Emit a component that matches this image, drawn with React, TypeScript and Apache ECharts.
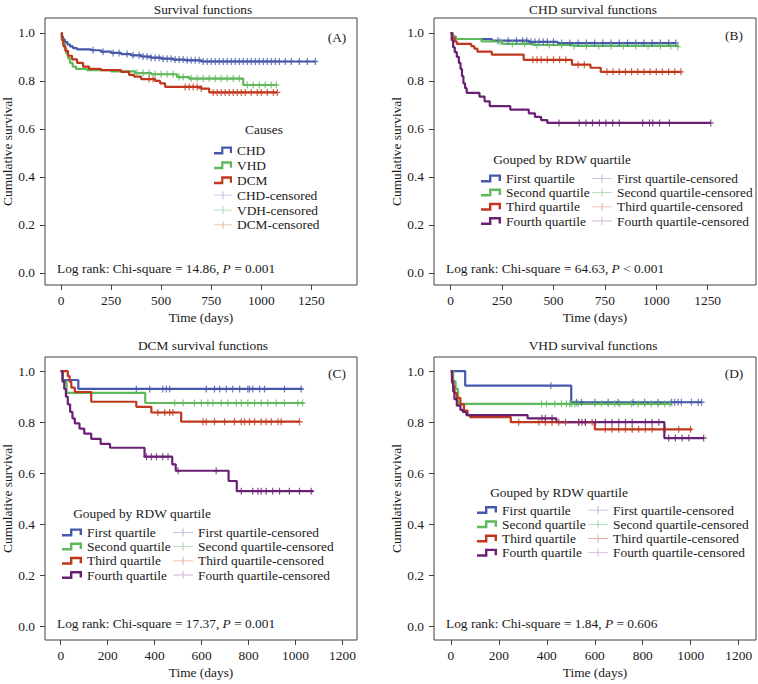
import React, { useEffect, useRef } from 'react';
import * as echarts from 'echarts';

const FONT = '"Liberation Serif", "Times New Roman", Times, serif';
const FS = 13.4;
const TXT = '#1a1a1a';
const BLUE = '#4658ab';
const GREEN = '#5fb95c';
const RED = '#c0381c';
const PURPLE = '#6a2174';
const BLUE_L = '#9ba6d6';
const GREEN_L = '#86cc96';
const RED_L = '#e59a80';
const PURPLE_L = '#c9a0cf';

// ---------- Panel A: all causes ----------
const aChdSteps = [[0, 1], [4, 0.985], [10, 0.972], [20, 0.962], [32, 0.952], [45, 0.944], [60, 0.937], [80, 0.932], [150, 0.928], [200, 0.922], [250, 0.917], [300, 0.912], [350, 0.907], [400, 0.902], [450, 0.897], [500, 0.893], [560, 0.889], [620, 0.886], [700, 0.881], [1270, 0.881]];
const aChdCens = [160, 210, 260, 290, 330, 360, 390, 410, 430, 450, 470, 490, 510, 530, 550, 570, 590, 610, 630, 650, 670, 690, 710, 730, 750, 770, 790, 810, 830, 850, 870, 890, 910, 930, 950, 970, 990, 1010, 1030, 1050, 1070, 1090, 1120, 1150, 1190, 1230, 1270];
const aVhdSteps = [[0, 1], [4, 0.975], [10, 0.955], [18, 0.935], [25, 0.915], [35, 0.895], [45, 0.875], [58, 0.86], [75, 0.85], [130, 0.845], [250, 0.84], [370, 0.833], [450, 0.828], [580, 0.816], [640, 0.81], [910, 0.783], [1075, 0.783]];
const aVhdCens = [380, 410, 440, 470, 500, 530, 560, 590, 610, 650, 680, 710, 740, 770, 800, 830, 860, 890, 930, 960, 990, 1020, 1050, 1075];
const aDcmSteps = [[0, 1], [5, 0.97], [12, 0.945], [22, 0.925], [35, 0.905], [55, 0.89], [80, 0.875], [110, 0.86], [140, 0.85], [200, 0.845], [300, 0.838], [340, 0.825], [365, 0.818], [400, 0.808], [470, 0.8], [495, 0.79], [520, 0.775], [700, 0.768], [740, 0.752], [1080, 0.752]];
const aDcmCens = [440, 460, 620, 640, 660, 680, 700, 760, 780, 800, 820, 840, 860, 880, 900, 920, 950, 980, 1000, 1030, 1060, 1080];

// ---------- Panel B: CHD by RDW quartile ----------
const bQ1Steps = [[0, 1], [10, 0.985], [25, 0.975], [200, 0.968], [380, 0.963], [520, 0.958], [1095, 0.958]];
const bQ1Cens = [230, 280, 320, 350, 370, 390, 410, 430, 450, 470, 500, 540, 580, 620, 660, 700, 740, 780, 820, 860, 900, 940, 980, 1020, 1060, 1095];
const bQ2Steps = [[0, 1], [10, 0.985], [25, 0.975], [150, 0.965], [250, 0.955], [400, 0.95], [600, 0.946], [1105, 0.943]];
const bQ2Cens = [240, 300, 360, 420, 480, 540, 600, 660, 720, 780, 840, 900, 960, 1020, 1070, 1105];
const bQ3Steps = [[0, 1], [8, 0.98], [20, 0.965], [30, 0.955], [100, 0.945], [115, 0.935], [130, 0.922], [200, 0.91], [355, 0.888], [590, 0.868], [680, 0.855], [730, 0.838], [1120, 0.838]];
const bQ3Cens = [400, 420, 440, 470, 500, 530, 560, 620, 650, 760, 790, 820, 850, 880, 910, 940, 970, 1000, 1030, 1060, 1090, 1120];
const bQ4Steps = [[0, 1], [5, 0.97], [12, 0.94], [20, 0.92], [30, 0.9], [40, 0.875], [48, 0.85], [55, 0.82], [62, 0.79], [70, 0.77], [78, 0.75], [140, 0.735], [165, 0.715], [190, 0.695], [290, 0.68], [380, 0.665], [410, 0.65], [440, 0.637], [470, 0.625], [1265, 0.625]];
const bQ4Cens = [527, 625, 658, 690, 723, 755, 788, 820, 934, 967, 983, 1016, 1064, 1265];

// ---------- Panel C: DCM by RDW quartile ----------
const cQ1Steps = [[0, 1], [8, 0.965], [75, 0.93], [1030, 0.93]];
const cQ1Cens = [322, 379, 435, 450, 464, 620, 655, 677, 705, 733, 762, 797, 804, 818, 847, 868, 953, 1024];
const cQ2Steps = [[0, 1], [8, 0.958], [25, 0.915], [360, 0.875], [1035, 0.875]];
const cQ2Cens = [485, 521, 570, 599, 627, 648, 684, 712, 748, 769, 797, 826, 854, 882, 918, 953, 1010, 1030];
const cQ3Steps = [[0, 1], [30, 0.98], [38, 0.958], [45, 0.935], [60, 0.918], [130, 0.88], [322, 0.86], [386, 0.838], [513, 0.802], [1017, 0.802]];
const cQ3Cens = [414, 443, 464, 478, 606, 620, 655, 698, 740, 769, 783, 804, 826, 854, 875, 897, 925, 939, 1017];
const cQ4Steps = [[0, 1], [8, 0.96], [15, 0.93], [22, 0.9], [30, 0.87], [40, 0.84], [50, 0.815], [60, 0.795], [80, 0.775], [100, 0.755], [130, 0.735], [170, 0.715], [210, 0.7], [357, 0.665], [475, 0.635], [490, 0.61], [715, 0.57], [750, 0.53], [1075, 0.53]];
const cQ4Cens = [365, 386, 408, 435, 457, 500, 662, 769, 818, 840, 854, 875, 903, 932, 974, 1017, 1067];

// ---------- Panel D: VHD by RDW quartile ----------
const dQ1Steps = [[0, 1], [60, 0.943], [502, 0.878], [1045, 0.878]];
const dQ1Cens = [417, 524, 545, 600, 656, 697, 760, 808, 864, 920, 933, 947, 961, 1003, 1031, 1045];
const dQ2Steps = [[0, 1], [10, 0.96], [20, 0.93], [30, 0.872], [915, 0.872]];
const dQ2Cens = [378, 399, 433, 461, 482, 496, 503, 517, 531, 600, 628, 656, 683, 704, 753, 781, 808, 836, 864, 892, 913];
const dQ3Steps = [[0, 1], [5, 0.965], [10, 0.94], [15, 0.915], [25, 0.895], [40, 0.87], [55, 0.845], [70, 0.828], [80, 0.82], [250, 0.8], [600, 0.772], [1005, 0.772]];
const dQ3Cens = [283, 367, 394, 422, 450, 478, 533, 561, 589, 644, 672, 700, 728, 756, 783, 811, 839, 894, 950, 999];
const dQ4Steps = [[0, 1], [5, 0.955], [10, 0.92], [15, 0.89], [25, 0.865], [40, 0.848], [50, 0.84], [65, 0.828], [320, 0.815], [440, 0.8], [890, 0.738], [1055, 0.738]];
const dQ4Cens = [380, 394, 422, 533, 547, 561, 603, 644, 672, 700, 728, 756, 811, 839, 867, 908, 936, 964, 992, 1054];

const xTicksA = [0, 250, 500, 750, 1000, 1250];
const xTicksC = [0, 200, 400, 600, 800, 1000, 1200];
const yTicks = [0, 0.2, 0.4, 0.6, 0.8, 1.0];

const quartileNames = ['First quartile', 'Second quartile', 'Third quartile', 'Fourth quartile'];
const quartileCensNames = ['First quartile-censored', 'Second quartile-censored', 'Third quartile-censored', 'Fourth quartile-censored'];
const causeNames = ['CHD', 'VHD', 'DCM'];
const causeCensNames = ['CHD-censored', 'VDH-censored', 'DCM-censored'];

const STEP_ICON = 'path://M0,5.5L8,5.5L8,0L20,0L20,6.5L17.6,6.5L17.6,2.4L10.4,2.4L10.4,8L0,8Z';
const CROSS_ICON = 'path://M0,3.6L9.5,3.6L9.5,0L10.5,0L10.5,3.6L20,3.6L20,4.4L10.5,4.4L10.5,8L9.5,8L9.5,4.4L0,4.4Z';
const MARK = 'path://M-0.6,-3L0.6,-3L0.6,-0.6L3,-0.6L3,0.6L0.6,0.6L0.6,3L-0.6,3L-0.6,0.6L-3,0.6L-3,-0.6L-0.6,-0.6Z';

function levelAt(steps: number[][], t: number) {
  let s = steps[0][1];
  for (const [x, y] of steps) if (x <= t) s = y;
  return s;
}

const panels = [
  { grid: { left: 45, top: 18, width: 312, height: 267 }, xMin: -80, xMax: 1478, yMin: -0.051, yMax: 1.0625, xTicks: xTicksA,
    curves: [
      { name: causeNames[0], cname: causeCensNames[0], steps: aChdSteps, cens: aChdCens, color: BLUE },
      { name: causeNames[1], cname: causeCensNames[1], steps: aVhdSteps, cens: aVhdCens, color: GREEN },
      { name: causeNames[2], cname: causeCensNames[2], steps: aDcmSteps, cens: aDcmCens, color: RED },
    ] },
  { grid: { left: 434, top: 18, width: 322, height: 267 }, xMin: -81, xMax: 1485, yMin: -0.051, yMax: 1.0625, xTicks: xTicksA,
    curves: [
      { name: quartileNames[0], cname: quartileCensNames[0], steps: bQ1Steps, cens: bQ1Cens, color: BLUE },
      { name: quartileNames[1], cname: quartileCensNames[1], steps: bQ2Steps, cens: bQ2Cens, color: GREEN },
      { name: quartileNames[2], cname: quartileCensNames[2], steps: bQ3Steps, cens: bQ3Cens, color: RED },
      { name: quartileNames[3], cname: quartileCensNames[3], steps: bQ4Steps, cens: bQ4Cens, color: PURPLE },
    ] },
  { grid: { left: 45, top: 357, width: 312, height: 283 }, xMin: -67, xMax: 1262, yMin: -0.052, yMax: 1.055, xTicks: xTicksC,
    curves: [
      { name: quartileNames[0], cname: quartileCensNames[0], steps: cQ1Steps, cens: cQ1Cens, color: BLUE },
      { name: quartileNames[1], cname: quartileCensNames[1], steps: cQ2Steps, cens: cQ2Cens, color: GREEN },
      { name: quartileNames[2], cname: quartileCensNames[2], steps: cQ3Steps, cens: cQ3Cens, color: RED },
      { name: quartileNames[3], cname: quartileCensNames[3], steps: cQ4Steps, cens: cQ4Cens, color: PURPLE },
    ] },
  { grid: { left: 434, top: 357, width: 322, height: 283 }, xMin: -70, xMax: 1272, yMin: -0.052, yMax: 1.055, xTicks: xTicksC,
    curves: [
      { name: quartileNames[0], cname: quartileCensNames[0], steps: dQ1Steps, cens: dQ1Cens, color: BLUE },
      { name: quartileNames[1], cname: quartileCensNames[1], steps: dQ2Steps, cens: dQ2Cens, color: GREEN },
      { name: quartileNames[2], cname: quartileCensNames[2], steps: dQ3Steps, cens: dQ3Cens, color: RED },
      { name: quartileNames[3], cname: quartileCensNames[3], steps: dQ4Steps, cens: dQ4Cens, color: PURPLE },
    ] },
];

const lightColors = [BLUE_L, GREEN_L, RED_L, PURPLE_L];

function buildOption() {
  const txt = { fontFamily: FONT, fontSize: FS, color: TXT, fontWeight: 'normal' };
  const series: any[] = [];
  panels.forEach((p, i) => {
    p.curves.forEach((c) => {
      series.push({
        type: 'line', name: c.name, xAxisIndex: i, yAxisIndex: i, step: 'end',
        showSymbol: false, symbol: 'none', data: c.steps,
        lineStyle: { color: c.color, width: 2.2 }, itemStyle: { color: c.color }, z: 2, silent: true,
      });
      series.push({
        type: 'scatter', name: c.cname, xAxisIndex: i, yAxisIndex: i,
        symbol: MARK, symbolSize: [6, 7],
        data: c.cens.map((t) => [t, levelAt(c.steps, t)]),
        itemStyle: { color: c.color }, z: 3, silent: true,
      });
    });
  });

  const legendBase = {
    orient: 'vertical', padding: 0, itemGap: 0, itemWidth: 20, itemHeight: 8,
    selectedMode: false, symbolKeepAspect: false,
    itemStyle: { borderWidth: 0 },
    textStyle: { ...txt, lineHeight: 14.2 },
  };
  const lineItems = (names: string[]) => names.map((n) => ({ name: n, icon: STEP_ICON }));
  const censItems = (names: string[]) => names.map((n, k) => ({ name: n, icon: CROSS_ICON, itemStyle: { color: lightColors[k], borderWidth: 0 } }));

  const legend = [
    { ...legendBase, left: 214, top: 143, itemWidth: 18, textStyle: { ...txt, lineHeight: 14.9 },
      data: [...lineItems(causeNames), ...censItems(causeCensNames)] },
    { ...legendBase, left: 481, top: 171.3, data: lineItems(quartileNames) },
    { ...legendBase, left: 592, top: 171.3, data: censItems(quartileCensNames) },
    { ...legendBase, left: 62, top: 525.3, data: lineItems(quartileNames) },
    { ...legendBase, left: 173, top: 525.3, data: censItems(quartileCensNames) },
    { ...legendBase, left: 477, top: 503, data: lineItems(quartileNames) },
    { ...legendBase, left: 588, top: 503, data: censItems(quartileCensNames) },
  ];

  const t = (text: string, x: number, y: number, align = 'center') => ({
    type: 'text', x, y, silent: true,
    style: { text, fontFamily: FONT, fontSize: FS, fontWeight: 'normal', fill: TXT, align, verticalAlign: 'middle' },
  });
  const rich = (chi: string, pv: string, x: number, y: number) => ({
    type: 'text', x, y, silent: true,
    style: {
      text: `{a|Log rank: Chi-square = ${chi}, }{i|P}{a|${pv}}`,
      align: 'left', verticalAlign: 'middle',
      rich: {
        a: { fontFamily: FONT, fontSize: FS, fill: TXT },
        i: { fontFamily: FONT, fontSize: FS, fill: TXT, fontStyle: 'italic' },
      },
    },
  });

  const graphic = [
    t('Survival functions', 203, 9),
    t('CHD survival functions', 593, 9),
    t('DCM survival functions', 203, 345),
    t('VHD survival functions', 593, 345),
    t('(A)', 337, 37),
    t('(B)', 734, 35),
    t('(C)', 337, 373),
    t('(D)', 734, 373),
    t('Causes', 264, 129),
    t('Gouped by RDW quartile', 562, 159),
    t('Gouped by RDW quartile', 142, 513),
    t('Gouped by RDW quartile', 559, 492),
    rich('14.86', ' = 0.001', 57, 268),
    rich('64.63', ' < 0.001', 446, 268),
    rich('17.37', ' = 0.001', 57, 623),
    rich('1.84', ' = 0.606', 446, 623),
  ];

  return {
    animation: false,
    backgroundColor: '#ffffff',
    textStyle: { fontFamily: FONT },
    grid: panels.map((p) => ({ ...p.grid, show: true, borderColor: '#404040', borderWidth: 1, backgroundColor: 'transparent' })),
    xAxis: panels.map((p, i) => ({
      type: 'value', gridIndex: i, min: p.xMin, max: p.xMax,
      name: 'Time (days)', nameLocation: 'middle', nameGap: 26, nameTextStyle: txt,
      axisLine: { show: false, onZero: false },
      axisTick: { show: true, length: 5, customValues: p.xTicks, lineStyle: { color: '#404040' } },
      axisLabel: { customValues: p.xTicks, margin: 9, ...txt, formatter: (v: number) => String(Math.round(v)) },
      splitLine: { show: false },
    })),
    yAxis: panels.map((p, i) => ({
      type: 'value', gridIndex: i, min: p.yMin, max: p.yMax,
      name: 'Cumulative survival', nameLocation: 'middle', nameGap: 30, nameTextStyle: txt,
      axisLine: { show: false, onZero: false },
      axisTick: { show: true, length: 5, customValues: yTicks, lineStyle: { color: '#404040' } },
      axisLabel: { customValues: yTicks, margin: 10, ...txt, formatter: (v: number) => v.toFixed(1) },
      splitLine: { show: false },
    })),
    legend,
    graphic,
    series,
  };
}

export default function App() {
  const ref = useRef<HTMLDivElement>(null);
  useEffect(() => {
    if (!ref.current) return;
    const chart = echarts.init(ref.current, null, { renderer: 'svg' });
    chart.setOption(buildOption() as any);
    return () => chart.dispose();
  }, []);
  return (
    <div
      ref={ref}
      style={{ position: 'fixed', left: 0, top: 0, width: 758, height: 684, background: '#fff' }}
    />
  );
}
